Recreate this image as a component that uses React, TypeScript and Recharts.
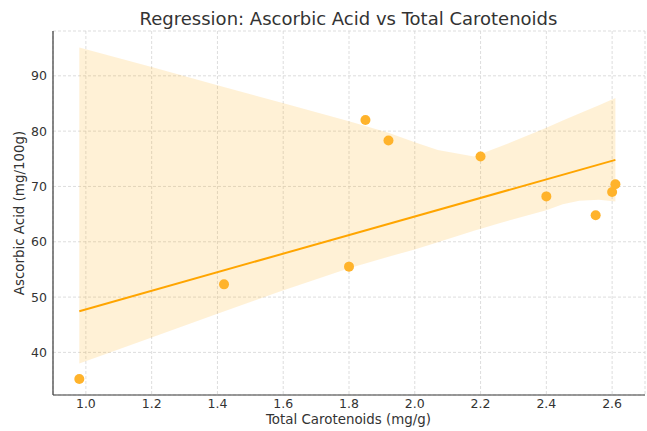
import {
  Area,
  CartesianGrid,
  ComposedChart,
  Line,
  Scatter,
  XAxis,
  YAxis,
} from "recharts";

const W = 647;
const H = 431;
const FONT = "'DejaVu Sans', sans-serif";

// observed samples
const carotenoids = [0.98, 1.42, 1.8, 1.85, 1.92, 2.2, 2.4, 2.55, 2.6, 2.61];
const ascorbic = [35.2, 52.3, 55.5, 82.0, 78.3, 75.4, 68.2, 64.8, 69.0, 70.4];

// fitted regression line (ends)
const fitX = [0.98, 2.61];
const fitY = [47.45, 74.8];

// confidence band
const bandX = [0.98, 1.2, 1.4, 1.59, 1.8, 1.92, 2.0, 2.07, 2.18, 2.26, 2.4, 2.45, 2.5, 2.56, 2.61];
const bandLow = [38.0, 42.7, 47.0, 51.0, 55.2, 57.3, 58.6, 59.9, 62.0, 63.4, 65.7, 66.8, 67.4, 67.6, 67.3];
const bandHigh = [95.1, 91.6, 88.3, 85.2, 81.8, 79.7, 78.0, 76.6, 75.4, 77.2, 80.6, 81.9, 83.2, 84.7, 86.0];

const xTicks = [1.0, 1.2, 1.4, 1.6, 1.8, 2.0, 2.2, 2.4, 2.6];
const yTicks = [40, 50, 60, 70, 80, 90];

const bandData = bandX.map((x, i) => ({ x, band: [bandLow[i], bandHigh[i]] }));
const fitData = fitX.map((x, i) => ({ x, fit: fitY[i] }));
const pointData = carotenoids.map((x, i) => ({ x, y: ascorbic[i] }));

const tickStyle = { fill: "#333", fontSize: 12.5, fontFamily: FONT };

function Dot(props: any) {
  const { cx, cy } = props;
  return <circle cx={cx} cy={cy} r={5} fill="#FFB32B" />;
}

export default function App() {
  return (
    <div style={{ position: "relative", width: W, height: H, background: "#fff" }}>
      <style>{`body{margin:0}`}</style>
      <ComposedChart
        width={W}
        height={H}
        data={bandData}
        margin={{ top: 31, right: 2, bottom: 0, left: 0 }}
      >
        <CartesianGrid stroke="#d4d4d4" strokeDasharray="3 2" strokeWidth={0.8} />
        <XAxis
          dataKey="x"
          type="number"
          domain={[0.9, 2.7]}
          ticks={xTicks}
          allowDataOverflow
          tickFormatter={(v: number) => v.toFixed(1)}
          tick={tickStyle}
          tickLine={false}
          tickSize={0}
          tickMargin={4}
          height={36}
          axisLine={{ stroke: "#3a3a3a", strokeWidth: 1.2 }}
        />
        <YAxis
          type="number"
          domain={[32.3, 98.1]}
          ticks={yTicks}
          allowDataOverflow
          tick={tickStyle}
          tickLine={false}
          tickSize={0}
          tickMargin={6}
          width={53}
          axisLine={{ stroke: "#3a3a3a", strokeWidth: 1.2 }}
        />
        <Area
          dataKey="band"
          type="linear"
          stroke="none"
          fill="#FFA500"
          fillOpacity={0.16}
          isAnimationActive={false}
        />
        <Scatter data={pointData} dataKey="y" shape={Dot} isAnimationActive={false} />
        <Line
          data={fitData}
          dataKey="fit"
          type="linear"
          stroke="#FFA500"
          strokeWidth={2}
          dot={false}
          isAnimationActive={false}
        />
      </ComposedChart>
      <svg
        width={W}
        height={H}
        style={{ position: "absolute", left: 0, top: 0, pointerEvents: "none" }}
      >
        <text x={348.5} y={25} textAnchor="middle" fontSize={18} fill="#333" fontFamily={FONT}>
          Regression: Ascorbic Acid vs Total Carotenoids
        </text>
        <text x={348.5} y={424} textAnchor="middle" fontSize={13.4} fill="#333" fontFamily={FONT}>
          Total Carotenoids (mg/g)
        </text>
        <text
          x={23.5}
          y={213}
          textAnchor="middle"
          fontSize={13.4}
          fill="#333"
          fontFamily={FONT}
          transform="rotate(-90, 23.5, 213)"
        >
          Ascorbic Acid (mg/100g)
        </text>
      </svg>
    </div>
  );
}
